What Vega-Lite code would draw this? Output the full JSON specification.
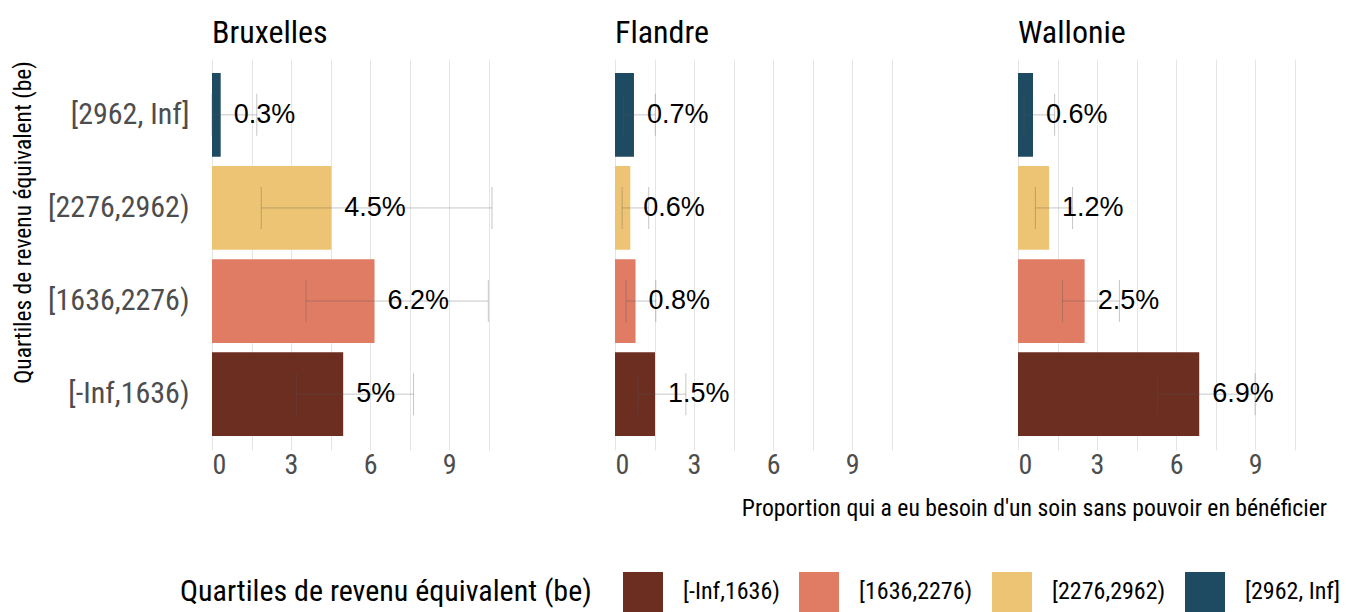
{
  "$schema": "https://vega.github.io/schema/vega-lite/v6.json",
  "background": "white",
  "padding": {"left": 11, "top": 17, "right": 5, "bottom": 0},
  "data": {
    "values": [
      {"region": "Bruxelles", "quartile": "[-Inf,1636)", "value": 4.98, "lower": 3.21, "upper": 7.65, "label": "5%"},
      {"region": "Bruxelles", "quartile": "[1636,2276)", "value": 6.17, "lower": 3.57, "upper": 10.49, "label": "6.2%"},
      {"region": "Bruxelles", "quartile": "[2276,2962)", "value": 4.53, "lower": 1.87, "upper": 10.63, "label": "4.5%"},
      {"region": "Bruxelles", "quartile": "[2962, Inf]", "value": 0.33, "lower": 0, "upper": 1.7, "label": "0.3%"},
      {"region": "Flandre", "quartile": "[-Inf,1636)", "value": 1.52, "lower": 0.88, "upper": 2.69, "label": "1.5%"},
      {"region": "Flandre", "quartile": "[1636,2276)", "value": 0.78, "lower": 0.42, "upper": 1.55, "label": "0.8%"},
      {"region": "Flandre", "quartile": "[2276,2962)", "value": 0.58, "lower": 0.27, "upper": 1.28, "label": "0.6%"},
      {"region": "Flandre", "quartile": "[2962, Inf]", "value": 0.72, "lower": 0.33, "upper": 1.53, "label": "0.7%"},
      {"region": "Wallonie", "quartile": "[-Inf,1636)", "value": 6.88, "lower": 5.29, "upper": 9.0, "label": "6.9%"},
      {"region": "Wallonie", "quartile": "[1636,2276)", "value": 2.53, "lower": 1.69, "upper": 3.85, "label": "2.5%"},
      {"region": "Wallonie", "quartile": "[2276,2962)", "value": 1.18, "lower": 0.66, "upper": 2.07, "label": "1.2%"},
      {"region": "Wallonie", "quartile": "[2962, Inf]", "value": 0.57, "lower": 0.23, "upper": 1.39, "label": "0.6%"}
    ]
  },
  "facet": {
    "column": {
      "field": "region",
      "type": "nominal",
      "sort": ["Bruxelles", "Flandre", "Wallonie"],
      "title": "Proportion qui a eu besoin d'un soin sans pouvoir en bénéficier",
      "header": {
        "labelOrient": "top",
        "labelAnchor": "start",
        "labelFont": "'Roboto Condensed', 'DejaVu Sans Condensed', 'Liberation Sans'",
        "labelFontSize": 32,
        "labelColor": "#000000",
        "labelPadding": 9,
        "titleOrient": "bottom",
        "titleAnchor": "end",
        "titleFont": "'Roboto Condensed', 'DejaVu Sans Condensed', 'Liberation Sans'",
        "titleFontSize": 23.7,
        "titleFontWeight": "normal",
        "titleColor": "#000000",
        "titlePadding": 8
      }
    }
  },
  "spacing": 94,
  "resolve": {"scale": {"x": "shared", "y": "shared"}},
  "spec": {
    "width": 309,
    "height": 391,
    "encoding": {
      "y": {
        "field": "quartile",
        "type": "nominal",
        "sort": ["[2962, Inf]", "[2276,2962)", "[1636,2276)", "[-Inf,1636)"],
        "scale": {"paddingInner": 0.1, "paddingOuter": 0.15},
        "axis": {
          "title": "Quartiles de revenu équivalent (be)",
          "titleFont": "'Roboto Condensed', 'DejaVu Sans Condensed', 'Liberation Sans'",
          "titleFontSize": 23.5,
          "titleFontWeight": "normal",
          "titleColor": "#000000",
          "titlePadding": 12,
          "titleY": 163,
          "labelFont": "'Roboto Condensed', 'DejaVu Sans Condensed', 'Liberation Sans'",
          "labelFontSize": 30,
          "labelColor": "#4d4d4d",
          "labelPadding": 22,
          "labelLimit": 400,
          "ticks": false,
          "domain": false,
          "grid": false
        }
      }
    },
    "layer": [
      {
        "mark": {"type": "bar"},
        "encoding": {
          "x": {
            "field": "value",
            "type": "quantitative",
            "scale": {"domain": [0, 11.73], "nice": false, "zero": true},
            "axis": {
              "title": null,
              "values": [0, 1.5, 3, 4.5, 6, 7.5, 9, 10.5],
              "labelExpr": "datum.value % 3 == 0 ? datum.label : ''",
              "labelFont": "'Roboto Condensed', 'DejaVu Sans Condensed', 'Liberation Sans'",
              "labelFontSize": 28,
              "labelColor": "#4d4d4d",
              "labelPadding": 1,
              "ticks": false,
              "domain": false,
              "grid": true,
              "gridColor": "#e5e5e5",
              "gridWidth": 1
            }
          },
          "color": {
            "field": "quartile",
            "type": "nominal",
            "scale": {
              "domain": ["[-Inf,1636)", "[1636,2276)", "[2276,2962)", "[2962, Inf]"],
              "range": ["#6b2e21", "#e07b64", "#edc473", "#1e4b61"]
            },
            "legend": {
              "title": "Quartiles de revenu équivalent (be)",
              "orient": "none",
              "legendX": -32,
              "legendY": 513,
              "direction": "horizontal",
              "titleOrient": "left",
              "titleFont": "'Roboto Condensed', 'DejaVu Sans Condensed', 'Liberation Sans'",
              "titleFontSize": 30,
              "titleFontWeight": "normal",
              "titleColor": "#000000",
              "titlePadding": 31,
              "titleLimit": 1000,
              "labelFont": "'Roboto Condensed', 'DejaVu Sans Condensed', 'Liberation Sans'",
              "labelFontSize": 24,
              "labelColor": "#000000",
              "labelOffset": 20,
              "labelLimit": 400,
              "columnPadding": 19,
              "symbolType": "square",
              "symbolSize": 1600,
              "symbolStrokeWidth": 0,
              "symbolOpacity": 1
            }
          }
        }
      },
      {
        "mark": {"type": "rule", "color": "#555555", "opacity": 0.33, "strokeWidth": 1},
        "encoding": {
          "x": {"field": "lower", "type": "quantitative"},
          "x2": {"field": "upper"}
        }
      },
      {
        "mark": {"type": "tick", "color": "#555555", "opacity": 0.33, "thickness": 1, "size": 42},
        "encoding": {
          "x": {"field": "lower", "type": "quantitative"}
        }
      },
      {
        "mark": {"type": "tick", "color": "#555555", "opacity": 0.33, "thickness": 1, "size": 42},
        "encoding": {
          "x": {"field": "upper", "type": "quantitative"}
        }
      },
      {
        "mark": {"type": "text", "align": "left", "baseline": "middle", "dx": 13, "font": "Liberation Sans", "fontSize": 27, "color": "#000000"},
        "encoding": {
          "x": {"field": "value", "type": "quantitative"},
          "text": {"field": "label", "type": "nominal"}
        }
      }
    ]
  },
  "config": {
    "view": {"stroke": null},
    "font": "Liberation Sans"
  }
}
